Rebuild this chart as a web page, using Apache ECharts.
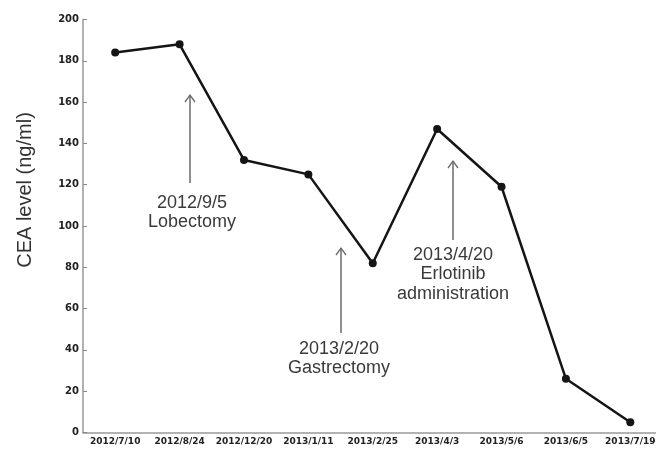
<!DOCTYPE html>
<html>
<head>
<meta charset="utf-8">
<script src="https://cdn.jsdelivr.net/npm/echarts@6/dist/echarts.min.js"></script>
<style>html,body{margin:0;padding:0;background:#fff}#c{width:656px;height:451px}</style>
</head>
<body>
<div id="c"></div>
<script>
var categories = ['2012/7/10','2012/8/24','2012/12/20','2013/1/11','2013/2/25','2013/4/3','2013/5/6','2013/6/5','2013/7/19'];
var ceaValues = [184, 188, 132, 125, 82, 147, 119, 26, 5];
var yTicks = {min: 0, max: 200, interval: 20};
var axisTitle = 'CEA level (ng/ml)';
var annotations = [
  {lines: ['2012/9/5', 'Lobectomy'], x: 190, tipY: 95, baseY: 183, textX: 192, textY: 203},
  {lines: ['2013/2/20', 'Gastrectomy'], x: 341, tipY: 248, baseY: 333, textX: 339, textY: 349},
  {lines: ['2013/4/20', 'Erlotinib', 'administration'], x: 453, tipY: 161, baseY: 240, textX: 453, textY: 255}
];

var graphics = [];
annotations.forEach(function (a) {
  graphics.push({type: 'line', shape: {x1: a.x, y1: a.baseY, x2: a.x, y2: a.tipY}, style: {stroke: '#6a6a6a', lineWidth: 1.5}, z: 10});
  graphics.push({type: 'polyline', shape: {points: [[a.x - 5, a.tipY + 7], [a.x, a.tipY], [a.x + 5, a.tipY + 7]]}, style: {stroke: '#6a6a6a', lineWidth: 1.3, fill: null}, z: 10});
  a.lines.forEach(function (t, i) {
    graphics.push({type: 'text', x: a.textX, y: a.textY + i * 19.5, style: {text: t, fill: '#3a3a3a', font: '18px "Liberation Sans", Arial, sans-serif', align: 'center', verticalAlign: 'middle'}, z: 10});
  });
});
graphics.push({type: 'text', x: 25, y: 190, rotation: Math.PI / 2, style: {text: axisTitle, fill: '#333', font: '20px "Liberation Sans", Arial, sans-serif', align: 'center', verticalAlign: 'middle'}});

var chart = echarts.init(document.getElementById('c'), null, {renderer: 'canvas'});
chart.setOption({
  animation: false,
  backgroundColor: '#fff',
  grid: {left: 83, top: 19.5, width: 579.5, bottom: 18.5, containLabel: false, outerBoundsMode: 'none'},
  xAxis: {
    type: 'category',
    data: categories,
    boundaryGap: true,
    axisLine: {lineStyle: {color: '#999', width: 1.5}},
    axisTick: {inside: true, length: 4, lineStyle: {color: '#888'}},
    axisLabel: {color: '#222', fontSize: 9, fontWeight: 'bold', fontFamily: 'DejaVu Sans', margin: 5, interval: 0, hideOverlap: false},
    splitLine: {show: false}
  },
  yAxis: {
    type: 'value',
    min: yTicks.min, max: yTicks.max, interval: yTicks.interval,
    axisLine: {show: true, lineStyle: {color: '#999', width: 1.5}},
    axisTick: {show: true, inside: true, length: 4, lineStyle: {color: '#888'}},
    axisLabel: {color: '#222', fontSize: 10, fontWeight: 'bold', fontFamily: 'DejaVu Sans', margin: 4},
    splitLine: {show: false}
  },
  series: [{
    type: 'line',
    data: ceaValues,
    symbol: 'circle',
    symbolSize: 8,
    lineStyle: {color: '#151515', width: 2.5},
    itemStyle: {color: '#151515'}
  }],
  graphic: graphics
});
</script>
</body>
</html>
